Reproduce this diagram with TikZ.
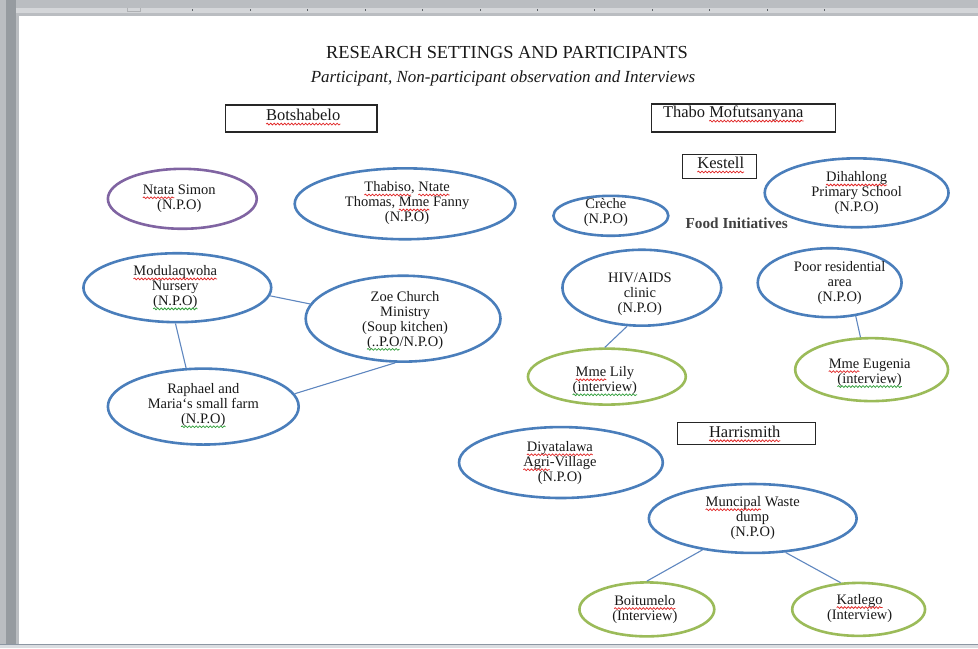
\documentclass[tikz,border=0pt]{standalone}
\usepackage{fontspec}
\setmainfont{Liberation Serif}
\usetikzlibrary{shapes.geometric,decorations.pathmorphing}

\definecolor{ringblue}{RGB}{74,126,187}
\definecolor{ringpurple}{RGB}{128,100,162}
\definecolor{ringgreen}{RGB}{155,187,89}
\definecolor{linkblue}{RGB}{95,135,192}
\definecolor{spellred}{RGB}{225,40,40}
\definecolor{spellgreen}{RGB}{50,160,60}
\definecolor{inkgray}{RGB}{25,25,25}
\definecolor{frameA}{RGB}{186,189,193}
\definecolor{frameB}{RGB}{150,155,160}
\definecolor{rulerband}{RGB}{212,214,217}
\definecolor{frameline}{RGB}{140,150,162}
\definecolor{framelow}{RGB}{218,221,225}
\definecolor{tickgray}{RGB}{95,100,105}

% wavy spell-check underlines drawn under a word
\newsavebox\sqbox
\newlength\sqwd
\newcommand\sqline[2]{\sbox\sqbox{#2}\setlength\sqwd{\wd\sqbox}%
  \leavevmode\rlap{\usebox\sqbox}%
  \tikz[baseline=0pt]{\useasboundingbox (0pt,0pt) rectangle (\sqwd,0pt);
    \draw[#1, line width=0.75pt, decorate, decoration={snake, amplitude=0.9pt, segment length=3.5pt}] (0pt,-3.2pt) -- (\sqwd,-3.2pt);}}
\newcommand\redsq[1]{\sqline{spellred}{#1}}
\newcommand\greensq[1]{\sqline{spellgreen}{#1}}

\tikzset{
  bub/.style={ellipse, draw=ringblue, line width=2.6pt, inner sep=0pt},
  bubpurple/.style={bub, draw=ringpurple},
  bubgreen/.style={bub, draw=ringgreen},
  link/.style={draw=linkblue, line width=1.1pt},
  lbl/.style={align=center, font=\fontsize{14.5}{15}\selectfont, text=inkgray, inner sep=0pt},
  placebox/.style={draw=black!85, line width=1.3pt, fill=white, inner sep=0pt},
  boxlbl/.style={font=\fontsize{16.5}{18}\selectfont, text=inkgray, inner sep=0pt},
}

\begin{document}
\begin{tikzpicture}[x=1pt,y=-1pt]
% window frame, ruler and page
\fill[frameA] (0,0) rectangle (978,649);
\fill[frameB] (6,0) rectangle (16,649);
\fill[rulerband] (16,8) rectangle (978,13);
\fill[white] (19,16) rectangle (978,645);
\fill[framelow] (0,646) rectangle (978,649);
\draw[frameline, line width=1pt] (0,645.5) -- (978,645.5);
\foreach \k in {0,...,11} \fill[tickgray] ({192+57.5*\k},9) rectangle ++(1,2);
\draw[tickgray!50, line width=0.8pt] (127,8) -- (127,11.5) -- (140,11.5) -- (140,8);
\useasboundingbox (0,0) rectangle (978,649);

% headings
\node[inner sep=0pt, anchor=base, font=\fontsize{18.4}{20}\selectfont, text=inkgray] (title) at (507,59) {RESEARCH SETTINGS AND PARTICIPANTS};
\node[inner sep=0pt, anchor=base, font=\fontsize{17}{20}\selectfont\itshape, text=inkgray] (subtitle) at (503,83) {Participant, Non-participant observation and Interviews};

% place boxes
\node[placebox, minimum width=152pt, minimum height=27pt] (botsbox) at (301,118.5) {};
\node[boxlbl, anchor=base] (botslbl) at (303,121) {\redsq{Botshabelo}};
\node[placebox, minimum width=184pt, minimum height=28pt] (thabobox) at (744,118) {};
\node[boxlbl, anchor=base west] (thabolbl) at (663,118) {Thabo \redsq{Mofutsanyana}};
\node[placebox, minimum width=74pt, minimum height=24pt] (kestbox) at (720,167) {};
\node[boxlbl, anchor=base] (kestlbl) at (721,169) {\redsq{Kestell}};
\node[placebox, minimum width=138pt, minimum height=22pt] (harrbox) at (747,434) {};
\node[boxlbl, anchor=base] (harrlbl) at (745,438) {\redsq{Harrismith}};

% Botshabelo settings
\node[bubpurple, minimum width=149pt, minimum height=60pt] (simon) at (182,199) {};
\node[lbl] (simonlbl) at (179,199) {\redsq{Ntata} Simon\\(N.P.O)};
\node[bub, minimum width=221pt, minimum height=71pt] (thab) at (405,204) {};
\node[lbl] (thablbl) at (407,203.5) {\redsq{Thabiso}, \redsq{Ntate}\\Thomas, \redsq{Mme} Fanny\\(N.P.O)};
\node[bub, minimum width=188pt, minimum height=69pt] (mod) at (177,288) {};
\node[lbl] (modlbl) at (175,287.5) {\redsq{Modulaqwoha}\\Nursery\\\greensq{(N.P.O)}};
\node[bub, minimum width=195pt, minimum height=86pt] (zoe) at (403,319) {};
\node[lbl] (zoelbl) at (405,320.5) {Zoe Church\\Ministry\\(Soup kitchen)\\\greensq{(..P.O}/N.P.O)};
\node[bub, minimum width=191pt, minimum height=76pt] (raph) at (203,407) {};
\node[lbl] (raphlbl) at (203,405.5) {Raphael and\\Maria`s small farm\\\greensq{(N.P.O)}};

\draw[link] (mod.-5) -- (zoe.171);
\draw[link] (mod.267) -- (raph.114);
\draw[link] (zoe.260) -- (raph.8);

% Kestell settings
\node[bub, minimum width=115pt, minimum height=40pt] (creche) at (611,216) {};
\node[lbl] (crechelbl) at (606,213) {Crèche\\(N.P.O)};
\node[bub, minimum width=184pt, minimum height=69pt] (dih) at (857,193) {};
\node[lbl] (dihlbl) at (857,193.5) {\redsq{Dihahlong}\\Primary School\\(N.P.O)};
\node[inner sep=0pt, font=\fontsize{15.3}{17}\selectfont\bfseries, text=black!75] (food) at (737,223) {Food Initiatives};
\node[bub, minimum width=159pt, minimum height=76pt] (hiv) at (642,288) {};
\node[lbl] (hivlbl) at (640,295) {HIV/AIDS\\clinic\\(N.P.O)};
\node[bub, minimum width=144pt, minimum height=69pt] (poor) at (830,283) {};
\node[lbl] (poorlbl) at (840,283) {Poor residential\\area\\(N.P.O)};
\node[bubgreen, minimum width=158pt, minimum height=56pt] (lily) at (607,377) {};
\node[lbl] (lilylbl) at (605,381) {\redsq{Mme} Lily\\\greensq{(interview)}};
\node[bubgreen, minimum width=153pt, minimum height=63pt] (eug) at (872,370) {};
\node[lbl] (euglbl) at (870,373) {\redsq{Mme} Eugenia\\\greensq{(interview)}};

\draw[link] (hiv.249) -- (lily.94);
\draw[link] (poor.-52) -- (eug.109);

% Harrismith settings
\node[bub, minimum width=204pt, minimum height=71pt] (diy) at (561,463) {};
\node[lbl] (diylbl) at (560,463.5) {\redsq{Diyatalawa}\\\redsq{Agri}-Village\\(N.P.O)};
\node[bub, minimum width=208pt, minimum height=69pt] (mun) at (753,519) {};
\node[lbl] (munlbl) at (753,518.5) {\redsq{Muncipal} Waste\\dump\\(N.P.O)};
\node[bubgreen, minimum width=135pt, minimum height=54pt] (boi) at (647,610) {};
\node[lbl] (boilbl) at (645,610) {\redsq{Boitumelo}\\(Interview)};
\node[bubgreen, minimum width=133pt, minimum height=53pt] (kat) at (859,610) {};
\node[lbl] (katlbl) at (860,609) {\redsq{Katlego}\\(Interview)};

\draw[link] (mun.212) -- (boi.90);
\draw[link] (mun.314) -- (kat.124);
\end{tikzpicture}
\end{document}
